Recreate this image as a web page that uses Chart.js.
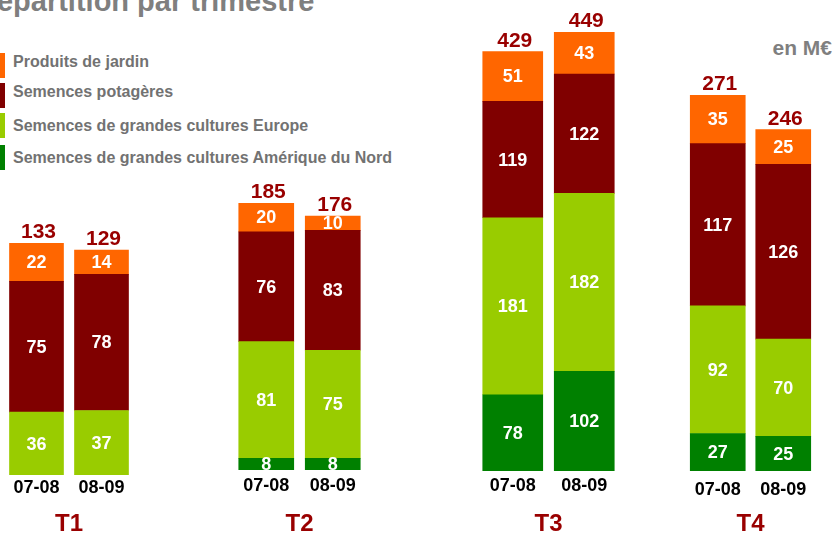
<!DOCTYPE html>
<html><head><meta charset="utf-8">
<script src="https://cdn.jsdelivr.net/npm/chart.js@4.4.1/dist/chart.umd.min.js"></script>
<style>
html,body{margin:0;padding:0;background:#fff;overflow:hidden;}
body{width:838px;height:542px;position:relative;font-family:"Liberation Sans",Arial,sans-serif;}
#title{position:absolute;left:-24px;top:-13px;font-size:29px;font-weight:bold;color:#7f7f7f;line-height:29px;white-space:nowrap;}
#unit{position:absolute;right:6px;top:37px;font-size:21px;font-weight:bold;color:#7f7f7f;line-height:21px;white-space:nowrap;}
.sw{position:absolute;left:-20px;width:25px;height:25px;}
.lt{position:absolute;left:13px;font-size:16px;font-weight:bold;color:#727272;line-height:16px;white-space:nowrap;}
canvas{position:absolute;top:0;}
</style></head><body>
<div id="title">Répartition par trimestre</div>
<div id="unit">en M€</div>
<div id="legend"></div>
<canvas id="c0"></canvas><canvas id="c1"></canvas><canvas id="c2"></canvas><canvas id="c3"></canvas>
<script>
// ---- data ----
const categories = ['07-08', '08-09'];
const quarters = ['T1', 'T2', 'T3', 'T4'];
const seriesNames = [
  'Semences de grandes cultures Amérique du Nord',
  'Semences de grandes cultures Europe',
  'Semences potagères',
  'Produits de jardin'
];
const amNord    = [[null, null], [8, 8], [78, 102], [27, 25]];
const europe    = [[36, 37], [81, 75], [181, 182], [92, 70]];
const potageres = [[75, 78], [76, 83], [119, 122], [117, 126]];
const jardin    = [[22, 14], [20, 10], [51, 43], [35, 25]];
const totals    = [[133, 129], [185, 176], [429, 449], [271, 246]];

// ---- styles / geometry ----
const seriesColors = ['#008000', '#99CC00', '#800000', '#FF6600'];
const legendOrder = [3, 2, 1, 0];
const legendSwatchTops = [53, 83, 113, 145];
const legendTextTops = [54, 84, 118, 150];
const panels = [
  {left: 4,   width: 130, top: 243, bottom: 475, bar: 54, tickPad: 2},
  {left: 233, width: 133, top: 203, bottom: 470, bar: 55, tickPad: 5},
  {left: 477, width: 143, top: 32,  bottom: 471, bar: 60, tickPad: 4},
  {left: 685, width: 131, top: 95,  bottom: 471, bar: 55, tickPad: 8}
];
const FAMILY = '"Liberation Sans", Arial, sans-serif';
Chart.defaults.font.family = FAMILY;

const series = [amNord, europe, potageres, jardin];

// legend (HTML)
const legendEl = document.getElementById('legend');
legendOrder.forEach((k, r) => {
  const sw = document.createElement('div');
  sw.className = 'sw';
  sw.style.top = legendSwatchTops[r] + 'px';
  sw.style.background = seriesColors[k];
  legendEl.appendChild(sw);
  const t = document.createElement('div');
  t.className = 'lt';
  t.style.top = legendTextTops[r] + 'px';
  t.textContent = seriesNames[k];
  legendEl.appendChild(t);
});

const labelPlugin = {
  id: 'segLabels',
  afterDatasetsDraw(chart, args, opts) {
    const ctx = chart.ctx;
    const q = opts.q;
    ctx.save();
    ctx.textAlign = 'center';
    ctx.textBaseline = 'middle';
    ctx.font = 'bold 18px ' + FAMILY;
    ctx.fillStyle = '#ffffff';
    chart.data.datasets.forEach((ds, di) => {
      const meta = chart.getDatasetMeta(di);
      meta.data.forEach((bar, i) => {
        const v = ds.data[i];
        if (v == null) return;
        const p = bar.getProps(['x', 'y', 'base'], true);
        ctx.fillText(String(v), p.x, (p.y + p.base) / 2 + 1);
      });
    });
    const topMeta = chart.getDatasetMeta(chart.data.datasets.length - 1);
    ctx.font = 'bold 21px ' + FAMILY;
    ctx.fillStyle = '#990000';
    ctx.textBaseline = 'alphabetic';
    topMeta.data.forEach((bar, i) => {
      ctx.fillText(String(totals[q][i]), bar.x + 2, bar.y - 5);
    });
    ctx.restore();
  }
};

panels.forEach((p, q) => {
  const cv = document.getElementById('c' + q);
  cv.width = p.width;
  cv.height = 542;
  cv.style.left = p.left + 'px';
  cv.style.width = p.width + 'px';
  cv.style.height = '542px';
  new Chart(cv, {
    type: 'bar',
    data: {
      labels: categories,
      datasets: series.map((s, k) => ({
        label: seriesNames[k],
        data: s[q],
        backgroundColor: seriesColors[k],
        borderWidth: 0,
        barThickness: p.bar
      }))
    },
    options: {
      responsive: false,
      animation: false,
      devicePixelRatio: 1,
      layout: {padding: {top: p.top, left: 0, right: 0, bottom: 0}},
      plugins: {
        legend: {display: false},
        tooltip: {enabled: false},
        segLabels: {q: q}
      },
      scales: {
        x: {
          stacked: true,
          grid: {display: false, drawTicks: false},
          border: {display: false},
          ticks: {color: '#000000', font: {size: 18, weight: 'bold'}, padding: p.tickPad, maxRotation: 0},
          title: {display: true, text: quarters[q], color: '#990000', font: {size: 24, weight: 'bold'}, padding: {top: 0, bottom: 3}},
          afterFit(scale) { scale.height = 542 - p.bottom; }
        },
        y: {
          stacked: true,
          display: false,
          min: 0,
          max: Math.max(...totals[q])
        }
      }
    },
    plugins: [labelPlugin]
  });
});
</script>
</body></html>
